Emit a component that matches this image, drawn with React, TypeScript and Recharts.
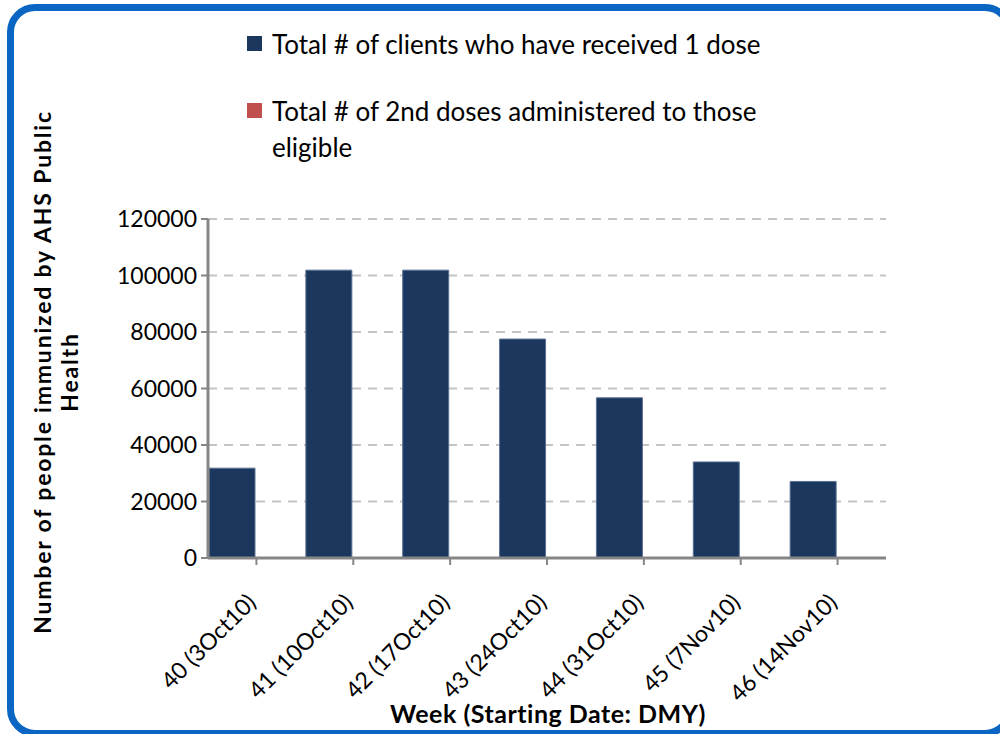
import { BarChart, Bar, XAxis, YAxis, CartesianGrid, Legend, Label } from 'recharts';

const weeks = ['40 (3Oct10)', '41 (10Oct10)', '42 (17Oct10)', '43 (24Oct10)', '44 (31Oct10)', '45 (7Nov10)', '46 (14Nov10)'];
const firstDoses = [31800, 101900, 101900, 77500, 56700, 34000, 27100];
const secondDoses = [0, 0, 0, 0, 0, 0, 0];
const yTicks = [0, 20000, 40000, 60000, 80000, 100000, 120000];

const SERIES_1 = 'Total # of clients who have received 1 dose';
const SERIES_2 = 'Total # of 2nd doses administered to those eligible';
const Y_TITLE = ['Number of people immunized by AHS Public', 'Health'];
const X_TITLE = 'Week (Starting Date: DMY)';

const FONT = 'Lato, "Open Sans", sans-serif';
const AXIS_GRAY = '#868686';
const COLOR_1 = '#1B375E';
const COLOR_2 = '#C0504D';

const data = weeks.map((w, i) => ({ week: w, first: firstDoses[i], second: secondDoses[i] }));

function WeekTick(props: any) {
  const { x, y, payload } = props;
  return (
    <text
      transform={`translate(${x + 1}, ${y + 37}) rotate(-45)`}
      textAnchor="end"
      fontSize={23}
      fontFamily={FONT}
      fill="#000"
    >
      {payload.value}
    </text>
  );
}

// legend order fixed to match series order
const legendItems = [
  { name: SERIES_1, color: COLOR_1 },
  { name: SERIES_2, color: COLOR_2 },
];

function LegendBox() {
  return (
    <div style={{ fontFamily: FONT, fontSize: 26, color: '#000', lineHeight: '36px' }}>
      {legendItems.map((it, i) => (
        <div key={i} style={{ display: 'flex', alignItems: 'flex-start', marginBottom: i === 0 ? 31 : 0 }}>
          <div style={{ width: 15, height: 15, background: it.color, marginTop: 10, marginRight: 10, flexShrink: 0 }} />
          <span>{it.name}</span>
        </div>
      ))}
    </div>
  );
}

const YTitle = () => (
  <text
    transform="translate(51, 372) rotate(-90)"
    textAnchor="middle"
    fontWeight="bold"
    fontSize={23}
    letterSpacing={1.8}
    fontFamily={FONT}
    fill="#000"
  >
    <tspan x={0} y={0}>{Y_TITLE[0]}</tspan>
    <tspan x={0} y={27}>{Y_TITLE[1]}</tspan>
  </text>
);

const XTitle = () => (
  <text x={548} y={723} textAnchor="middle" fontWeight="bold" fontSize={25} letterSpacing={0.5} fontFamily={FONT} fill="#000">
    {X_TITLE}
  </text>
);

export default function App() {
  return (
    <div style={{ position: 'fixed', left: 0, top: 0, width: 1000, height: 734, overflow: 'hidden', background: '#fff' }}>
      <div
        style={{
          position: 'absolute',
          left: 7,
          top: 4,
          width: 1006,
          height: 733,
          border: '7px solid #0A66C2',
          borderRadius: 28,
          boxSizing: 'border-box',
        }}
      />
      <div style={{ position: 'absolute', left: 0, top: 0 }}>
        <BarChart
          width={1000}
          height={734}
          data={data}
          margin={{ top: 219, right: 114, left: 0, bottom: 0 }}
          barCategoryGap={1}
          barGap={3}
        >
          <CartesianGrid vertical={false} stroke="#C4C4C4" strokeWidth={2} strokeDasharray="9 7" />
          <XAxis
            dataKey="week"
            height={176}
            interval={0}
            tick={<WeekTick />}
            axisLine={{ stroke: AXIS_GRAY, strokeWidth: 3 }}
            tickLine={{ stroke: AXIS_GRAY, strokeWidth: 2 }}
            tickSize={7}
          >
            <Label content={<XTitle />} />
          </XAxis>
          <YAxis
            width={208}
            domain={[0, 120000]}
            ticks={yTicks}
            interval={0}
            axisLine={{ stroke: AXIS_GRAY, strokeWidth: 3 }}
            tickLine={{ stroke: AXIS_GRAY, strokeWidth: 2 }}
            tickSize={7}
            tickMargin={4}
            tick={{ fontSize: 23, fontFamily: FONT, fill: '#000' }}
          >
            <Label content={<YTitle />} />
          </YAxis>
          <Legend
            layout="horizontal"
            verticalAlign="middle"
            align="center"
            content={<LegendBox />}
            wrapperStyle={{ top: 26, left: 247, width: 540, height: 140 }}
          />
          <Bar dataKey="first" name={SERIES_1} fill={COLOR_1} stroke="#5B7193" strokeWidth={1} isAnimationActive={false} />
          <Bar dataKey="second" name={SERIES_2} fill={COLOR_2} isAnimationActive={false} />
        </BarChart>
      </div>
    </div>
  );
}
